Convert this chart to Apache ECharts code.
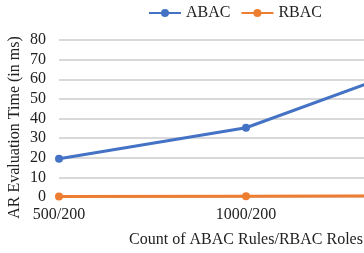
<!DOCTYPE html>
<html>
<head>
<meta charset="utf-8">
<script src="https://cdn.jsdelivr.net/npm/echarts@6/dist/echarts.min.js"></script>
<style>
  html, body { margin: 0; padding: 0; overflow: hidden; background: #fff; }
  #chart { width: 470px; height: 253px; }
</style>
</head>
<body>
<div id="chart"></div>
<script>
// categories (the third one falls outside the visible window)
const categories = ["500/200", "1000/200", "1500/200"];
const abacTimes = [19.5, 35.3, 70];
const rbacTimes = [0.3, 0.4, 0.6];

const font = "'Liberation Serif', 'Times New Roman', serif";

const chart = echarts.init(document.getElementById("chart"));
chart.setOption({
  animation: false,
  textStyle: { fontFamily: font },
  legend: {
    top: 0,
    itemWidth: 32,
    itemHeight: 10,
    itemGap: 10,
    textStyle: { fontFamily: font, fontSize: 16, color: "#222" },
    data: ["ABAC", "RBAC"],
  },
  grid: {
    left: 59,
    right: 37,
    top: 40,
    bottom: 56,
    outerBoundsMode: "none",
  },
  xAxis: {
    type: "category",
    boundaryGap: false,
    data: categories,
    name: "Count of ABAC Rules/RBAC Roles",
    nameLocation: "middle",
    nameGap: 35,
    nameMoveOverlap: false,
    nameTextStyle: { fontFamily: font, fontSize: 16, color: "#222" },
    axisLine: { show: false },
    axisTick: { show: false },
    axisLabel: { fontFamily: font, fontSize: 16, color: "#222", margin: 10 },
  },
  yAxis: {
    type: "value",
    min: 0,
    max: 80,
    interval: 10,
    name: "AR Evaluation Time (in ms)",
    nameLocation: "middle",
    nameGap: 36,
    nameMoveOverlap: false,
    nameTextStyle: { fontFamily: font, fontSize: 16, color: "#222", padding: [0, 18, 0, 0] },
    axisLine: { show: false },
    axisTick: { show: false },
    axisLabel: { fontFamily: font, fontSize: 16, color: "#222", margin: 13 },
    splitLine: { lineStyle: { color: "#cccccc", width: 1.5 } },
  },
  series: [
    {
      name: "ABAC",
      type: "line",
      data: abacTimes,
      symbol: "circle",
      symbolSize: 8,
      color: "#4472C4",
      lineStyle: { width: 3 },
    },
    {
      name: "RBAC",
      type: "line",
      data: rbacTimes,
      symbol: "circle",
      symbolSize: 8,
      color: "#ED7D31",
      lineStyle: { width: 3 },
    },
  ],
});
</script>
</body>
</html>
